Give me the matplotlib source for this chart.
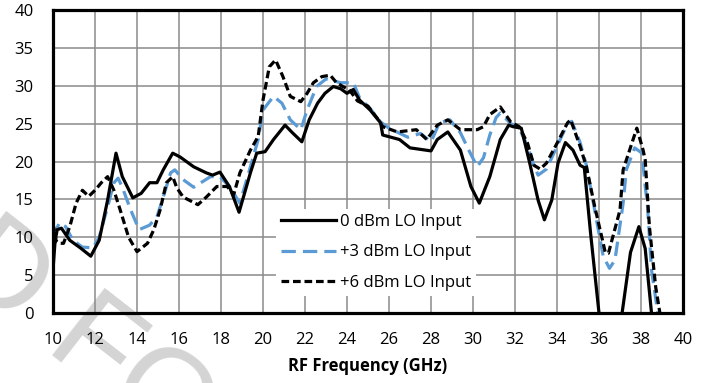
import matplotlib
matplotlib.use("Agg")
import matplotlib.pyplot as plt

# 0 dBm LO input
f0 = [10.0, 10.1, 10.2, 10.4, 10.8, 11.3, 11.8, 12.2, 12.6, 13.0, 13.3, 13.8, 14.2, 14.6, 14.95,
      15.25, 15.7, 16.05, 16.7, 17.3, 17.6, 17.95, 18.4, 18.86, 19.4, 19.7, 20.1, 20.5, 21.05,
      21.4, 21.85, 22.2, 22.6, 22.95, 23.35, 23.7, 24.0, 24.3, 24.6, 25.1, 25.6, 25.7, 26.5,
      27.0, 27.5, 28.0, 28.3, 28.8, 29.4, 29.9, 30.3, 30.8, 31.3, 31.7, 31.9, 32.3, 32.7, 33.1,
      33.4, 33.75, 34.05, 34.4, 34.76, 35.1, 35.3, 35.6, 36.0, 36.4, 36.8, 37.1, 37.5, 37.9,
      38.2, 38.5, 38.8]
v0 = [5.7, 9.5, 11.0, 11.2, 9.6, 8.6, 7.5, 9.6, 14.9, 21.1, 18.0, 15.2, 15.8, 17.2, 17.2,
      18.9, 21.1, 20.6, 19.3, 18.5, 18.2, 18.6, 16.7, 13.3, 18.5, 21.1, 21.3, 22.9, 24.8,
      23.8, 22.6, 25.5, 27.7, 29.0, 29.9, 29.6, 29.0, 29.5, 28.1, 26.8, 25.1, 23.5, 22.9,
      21.8, 21.6, 21.4, 22.9, 23.9, 21.5, 16.7, 14.5, 18.0, 22.9, 24.8, 24.6, 24.4, 19.8, 14.9,
      12.3, 14.9, 19.8, 22.5, 21.5, 19.5, 19.2, 10.5, 0.0, -6.0, -6.0, 0.0, 8.0, 11.4,
      8.5, 0.0, -6.0]

# +3 dBm LO input
f3 = [10.0, 10.3, 10.6, 10.95, 11.4, 11.9, 12.2, 12.6, 12.9, 13.1, 13.3, 13.7, 14.1, 14.6, 14.95,
      15.25, 15.6, 15.8, 16.2, 16.7, 17.1, 17.5, 17.95, 18.4, 18.9, 19.4, 19.77, 20.0, 20.5,
      20.9, 21.3, 21.8, 22.1, 22.55, 23.0, 23.7, 24.3, 24.6, 25.1, 25.6, 26.0, 26.9, 27.5,
      28.0, 28.4, 28.9, 29.4, 29.8, 30.2, 30.5, 30.8, 31.1, 31.3, 31.8, 32.2, 32.6, 32.9,
      33.1, 33.5, 34.0, 34.5, 34.7, 35.1, 35.4, 35.8, 36.2, 36.5, 36.76, 37.15, 37.3, 37.7,
      38.05, 38.2, 38.3, 38.5, 38.8, 39.0]
v3 = [10.0, 11.9, 11.4, 9.6, 8.7, 8.6, 10.0, 14.0, 17.2, 17.8, 16.6, 13.6, 11.0, 11.6, 12.7,
      15.3, 18.5, 18.9, 17.6, 16.6, 17.3, 18.0, 18.0, 16.7, 14.5, 19.3, 22.9, 26.8, 28.6,
      27.7, 25.5, 24.2, 26.8, 29.9, 30.9, 30.4, 30.4, 28.4, 27.0, 25.2, 24.4, 23.2, 23.7,
      22.6, 25.1, 25.5, 23.8, 21.5, 19.3, 20.5, 23.5, 25.8, 26.4, 25.0, 24.4, 22.0, 19.5,
      18.2, 19.0, 22.0, 25.0, 25.3, 22.5, 19.5, 13.5, 7.5, 5.9, 7.0, 14.5, 18.9, 21.8,
      21.1, 16.7, 14.5, 5.7, 0.0, -4.0]

# +6 dBm LO input
f6 = [10.0, 10.15, 10.3, 10.5, 10.8, 11.1, 11.4, 11.7, 12.0, 12.3, 12.6, 12.9, 13.2, 13.6, 14.0,
      14.5, 14.8, 15.1, 15.4, 15.7, 15.9, 16.2, 16.9, 17.3, 17.8, 18.3, 18.6, 18.9, 19.4,
      19.77, 20.0, 20.3, 20.6, 20.95, 21.3, 21.8, 22.1, 22.4, 22.8, 23.2, 23.5, 23.8, 24.1,
      24.5, 25.0, 25.5, 25.7, 26.4, 27.3, 27.8, 28.3, 28.8, 29.4, 30.2, 30.5, 30.8, 31.3,
      31.8, 32.2, 32.6, 32.9, 33.2, 33.5, 34.0, 34.5, 34.65, 35.1, 35.4, 35.8, 36.3, 36.45,
      37.0, 37.15, 37.8, 38.1, 38.2, 38.4, 38.7, 38.9, 39.1]
v6 = [11.8, 9.5, 9.2, 9.2, 11.4, 14.5, 16.2, 15.4, 16.2, 17.2, 18.0, 16.2, 13.6, 10.0, 8.1,
      9.2, 11.0, 13.6, 17.2, 18.0, 16.5, 15.3, 14.3, 15.3, 16.7, 16.7, 15.6, 18.5, 21.5,
      23.3, 28.1, 32.5, 33.4, 31.2, 28.6, 27.9, 29.0, 30.4, 31.2, 31.4, 30.4, 29.9, 29.5,
      28.0, 27.3, 25.5, 24.6, 23.9, 24.2, 22.9, 24.8, 25.5, 24.2, 24.2, 24.6, 26.2, 27.2,
      25.2, 24.6, 22.4, 19.5, 19.0, 19.8, 22.4, 25.1, 25.5, 22.0, 19.3, 14.0, 8.0, 7.9,
      13.6, 18.9, 24.4, 21.5, 20.2, 11.4, 3.4, 0.0, -4.0]

labels = ["0 dBm LO Input", "+3 dBm LO Input", "+6 dBm LO Input"]
xticks = list(range(10, 41, 2))
yticks = list(range(0, 41, 5))

plt.rcParams['font.family'] = ['Open Sans', 'DejaVu Sans']

fig = plt.figure(figsize=(7.08, 3.83), dpi=100)
ax = fig.add_axes([53/708, 70/383, 630/708, 303/383])
ax.patch.set_alpha(0)

# faint watermark behind the chart
fig.text(-55/708, 1 - 272/383, "D FOR", fontsize=90, color='#d4d4d4', rotation=-38,
         rotation_mode='anchor', family='Liberation Sans', ha='left', va='baseline', zorder=-1)

ax.plot(f0, v0, color='black', lw=2.3, solid_joinstyle='round', label=labels[0], zorder=5)
ax.plot(f3, v3, color='#5b9bd5', lw=2.3, dashes=(4.5, 2.2), label=labels[1], zorder=4)
ax.plot(f6, v6, color='black', lw=2.3, dashes=(2.4, 1.2), label=labels[2], zorder=6)

ax.set_xlim(10, 40)
ax.set_ylim(0, 40)
ax.set_xticks(xticks)
ax.set_yticks(yticks)
ax.grid(True, color='#8a8a8a', lw=1.1)
ax.set_axisbelow(True)
ax.tick_params(length=0, labelsize=12, pad=14)
for s in ax.spines.values():
    s.set_linewidth(2.3)
    s.set_color('black')
    s.set_zorder(10)
ax.set_xlabel("RF Frequency (GHz)", fontsize=12, fontweight='bold', labelpad=6)

leg = ax.legend(loc='center', bbox_to_anchor=(0.513, 0.2), fontsize=12, frameon=True,
                handlelength=3.3, handletextpad=0.2, labelspacing=0.85, borderpad=0.3,
                fancybox=False)
leg.get_frame().set_facecolor('white')
leg.get_frame().set_edgecolor('none')
leg.get_frame().set_alpha(1)
leg.set_zorder(20)

fig.savefig("out.png", dpi=100)
